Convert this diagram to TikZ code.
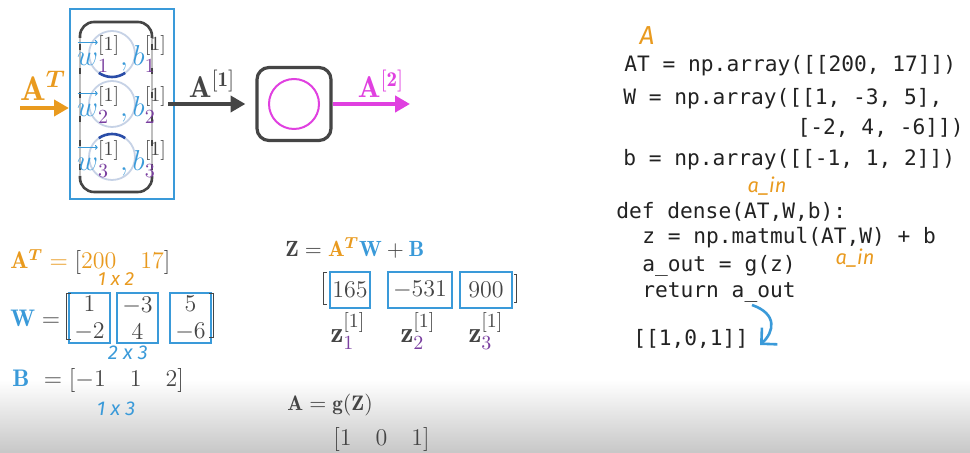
\documentclass[tikz,border=0pt]{standalone}
\usepackage{amsmath,bm}
\usepackage{fontspec}
\setmonofont{DejaVu Sans Mono}
\newfontfamily\handfont{Fira Sans}
\usetikzlibrary{arrows.meta,positioning}
\definecolor{nnOrange}{HTML}{E99A1E}
\definecolor{nnBlue}{HTML}{3A9AD9}
\definecolor{nnMagenta}{HTML}{E040E0}
\definecolor{nnInk}{HTML}{454545}
\definecolor{nnPurple}{HTML}{7A3FA0}
\definecolor{nnCircle}{HTML}{C6D2E6}
\definecolor{nnNavy}{HTML}{2A4DA8}
\definecolor{nnCode}{HTML}{222222}
\newcommand\wblabel[1]{$\textcolor{nnBlue}{w}^{[1]}_{\textcolor{nnPurple}{#1}}\textcolor{nnBlue}{,b}^{[1]}_{\textcolor{nnPurple}{#1}}$}
\newcommand\zlabel[1]{$\mathbf{z}^{[1]}_{\textcolor{nnPurple}{#1}}$}
\tikzset{
  every picture/.style={text=nnInk},
  nn arrow/.style={-{Triangle[length=2.6mm,width=2.8mm]}, line width=2pt},
  layer box/.style={draw=nnBlue, line width=1.1pt, minimum width=52pt,
    minimum height=95pt, inner sep=0pt},
  unit box/.style={draw=nnInk, line width=1.6pt, rounded corners=6pt,
    minimum width=37pt, minimum height=36.5pt},
  neuron/.style={draw=nnCircle, line width=0.9pt},
  neuron label/.style={font=\fontsize{14}{16}\selectfont, inner sep=0pt},
  neuron link/.style={draw=nnNavy, line width=1.3pt},
  vec arrow/.style={draw=nnBlue, line width=0.5pt, -{To[length=1.4pt,width=2.4pt]}},
  act circle/.style={circle, draw=nnMagenta, line width=1pt, minimum size=25pt},
  head label/.style={font=\fontsize{15}{17}\selectfont, inner sep=0pt},
  code/.style={font=\ttfamily\fontsize{10.6}{12}\selectfont, anchor=west,
    inner sep=0pt, text=nnCode},
  hand/.style={font=\handfont\itshape\fontsize{10}{11}\selectfont, inner sep=0pt},
  eq/.style={font=\fontsize{12}{14}\selectfont, anchor=west, inner sep=0pt},
  col box/.style={draw=nnBlue, line width=1.4pt, align=center, inner sep=0pt,
    minimum width=20.5pt, minimum height=25pt, font=\fontsize{12}{13.5}\selectfont},
  z box/.style={draw=nnBlue, line width=1.4pt, inner sep=0pt, minimum height=18pt,
    font=\fontsize{12.5}{14}\selectfont},
  bracket/.style={draw=nnInk, line width=0.8pt}
}

\begin{document}
\begin{tikzpicture}[x=0.5pt,y=-0.5pt]
  \useasboundingbox (0,0) rectangle (970,453);
  \fill[white] (0,0) rectangle (970,453);
  \shade[top color=white, bottom color=black!22] (0,380) rectangle (970,453);

  % layer 1 with three units
  \node[layer box] (layer) at (122,104) {};
  \draw[nnInk, line width=1.3pt, rounded corners=7pt] (80,38) |- (152,22) -- (152,38);
  \draw[nnInk, line width=1.3pt, rounded corners=7pt] (80,176) |- (152,192) -- (152,176);
  \draw[nnInk!35, line width=0.6pt] (80,38) -- (80,176) (152,38) -- (152,176);
  \draw[nnInk, line width=1.3pt, dash pattern=on 3pt off 9pt] (80,44) -- (80,176) (152,44) -- (152,176);
  \draw[neuron] (112,54) circle[radius=11.5pt];
  \draw[neuron] (112,104) circle[radius=11.5pt];
  \draw[neuron] (112,157) circle[radius=11.5pt];
  \draw[neuron link] (112,54) ++(235:11.5pt) arc[start angle=235, end angle=305, radius=11.5pt];
  \draw[neuron link] (112,157) ++(125:11.5pt) arc[start angle=125, end angle=55, radius=11.5pt];
  \node[neuron label] (wb1) at (122,54) {\wblabel{1}};
  \node[neuron label] (wb2) at (122,105) {\wblabel{2}};
  \node[neuron label] (wb3) at (122,159) {\wblabel{3}};
  \foreach \n in {wb1,wb2,wb3}
    \draw[vec arrow] ([xshift=0.5pt,yshift=-3.8pt]\n.north west) -- ++(20,0);

  % layer 2
  \node[unit box] (unit) at (294,104) {};
  \node[act circle] (act) at (unit.center) {};

  % arrows between layers
  \coordinate (in) at (20,108);
  \coordinate (out) at (410,104);
  \draw[nn arrow, nnOrange] (in) -- (in -| layer.west);
  \draw[nn arrow, nnInk, shorten <=-3.5pt, shorten >=5pt] (layer.east) -- (unit.west);
  \draw[nn arrow, nnMagenta] (unit.east) -- (out);
  \node[head label, text=nnOrange, font=\fontsize{17}{19}\selectfont] (inlbl) at (43,86) {$\mathbf{A}^{\bm{T}}$};
  \node[head label] (midlbl) at (212,84) {$\mathbf{A}^{\mathbf{[1]}}$};
  \node[head label, text=nnMagenta] (outlbl) at (381,84) {$\mathbf{A}^{\mathbf{[2]}}$};

  % input, weights and biases
  \node[eq] (ateq) at (10,262) {$\textcolor{nnOrange}{\mathbf{A}^{\bm{T}}}\mathrel{\textcolor{nnOrange}{=}}[\textcolor{nnOrange}{200\quad17}]$};
  \node[hand, text=nnOrange, font=\handfont\itshape\fontsize{9.5}{10}\selectfont] (atdim) at (116,279) {1 x 2};
  \node[eq] (weq) at (10,318) {$\textcolor{nnBlue}{\mathbf{W}}=$};
  \node[col box] (w1) at (89.5,318) {$1$\\$-2$};
  \node[col box] (w2) at (137.5,318) {$-3$\\$4$};
  \node[col box] (w3) at (190.5,318) {$5$\\$-6$};
  \draw[bracket] ([xshift=1.5pt]w1.north west) ++(0,2) -- ++(-4,0) -- ++(0,46) -- ++(4,0);
  \draw[bracket] ([xshift=-1.5pt]w3.north east) ++(0,2) -- ++(4,0) -- ++(0,44) -- ++(-4,0);
  \node[hand, text=nnBlue] (wdim) at (128,353) {2 x 3};
  \node[eq] (beq) at (12,381) {$\textcolor{nnBlue}{\mathbf{B}}\ =[-1\quad1\quad2]$};
  \node[hand, text=nnBlue] (bdim) at (116,409) {1 x 3};

  % pre-activations
  \node[eq, font=\fontsize{11}{13}\selectfont] (zeq) at (285,248) {$\mathbf{Z}=\textcolor{nnOrange}{\mathbf{A}^{\bm{T}}}\textcolor{nnBlue}{\mathbf{W}}+\textcolor{nnBlue}{\mathbf{B}}$};
  \node[z box, minimum width=20pt] (z1) at (350,290) {$165$};
  \node[z box, minimum width=32pt] (z2) at (420,290) {$-531$};
  \node[z box, minimum width=26pt] (z3) at (486,290) {$900$};
  \draw[bracket] ([xshift=-1pt]z1.north west) ++(0,2) -- ++(-3,0) -- ++(0,32) -- ++(3,0);
  \draw[bracket] ([xshift=0.5pt]z3.north east) ++(0,4) -- ++(2,0) -- ++(0,28) -- ++(-2,0);
  \node[head label, font=\fontsize{14.5}{16}\selectfont] (zl1) at (348,331) {\zlabel{1}};
  \node[head label, font=\fontsize{14.5}{16}\selectfont] (zl2) at (418,331) {\zlabel{2}};
  \node[head label, font=\fontsize{14.5}{16}\selectfont] (zl3) at (486,331) {\zlabel{3}};
  \node[eq, font=\fontsize{10.5}{12}\selectfont] (aeq) at (287,405) {$\mathbf{A}=\mathbf{g}(\mathbf{Z})$};
  \node[eq] (aval) at (333,440) {$[1\quad0\quad1]$};

  % code
  \node[hand, text=nnOrange, font=\handfont\itshape\fontsize{13}{14}\selectfont] (anote) at (647,36) {A};
  \node[code] (c-at) at (624,66) {AT = np.array([[200, 17]])};
  \node[code] (c-w) at (623,99) {W = np.array([[1, -3, 5],};
  \node[code, anchor=east] (c-w2) at (964,128) {[-2, 4, -6]])};
  \node[code] (c-b) at (623,160) {b = np.array([[-1, 1, 2]])};
  \node[hand, text=nnOrange] (ain1) at (767,186) {a\_in};
  \node[code] (c-def) at (616,212) {def dense(AT,W,b):};
  \node[code] (c-z) at (642,238) {z = np.matmul(AT,W) + b};
  \node[hand, text=nnOrange] (ain2) at (855,258) {a\_in};
  \node[code] (c-g) at (642,266) {a\_out = g(z)};
  \node[code] (c-ret) at (642,293) {return a\_out};
  \node[code] (c-res) at (633,339) {[[1,0,1]]};
  \coordinate (retend) at (752,305);
  \coordinate (resend) at (760,345);
  \draw[nnBlue, line width=1.3pt, -{Straight Barb[length=2mm]}] (retend) .. controls (778,314) and (774,332) .. (resend);
\end{tikzpicture}
\end{document}
